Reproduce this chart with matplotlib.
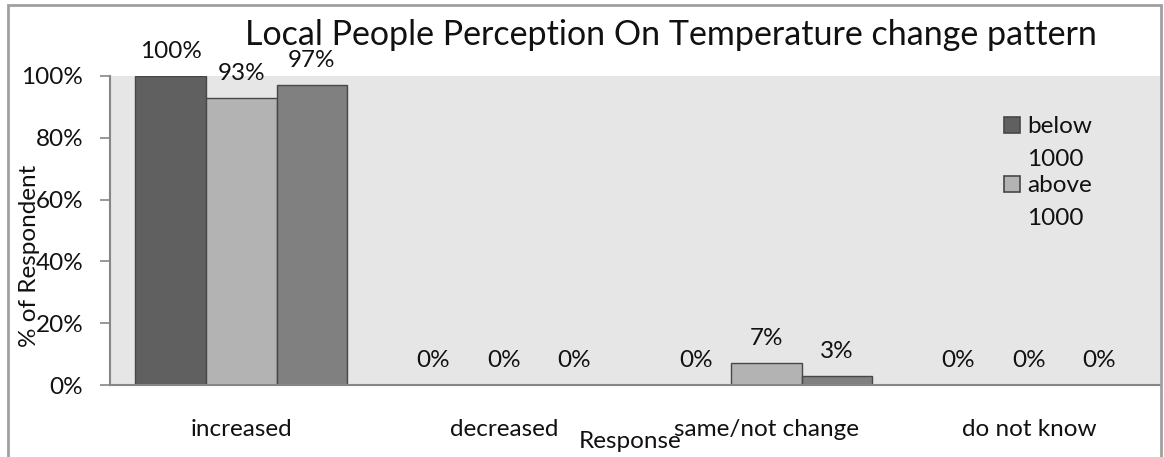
import numpy as np
import matplotlib
matplotlib.use("Agg")
import matplotlib.pyplot as plt
from matplotlib.patches import Rectangle

plt.rcParams["font.family"] = ["Lato", "DejaVu Sans"]

# data (% of respondents)
categories = ["increased", "decreased", "same/not change", "do not know"]
below_1000 = [100, 0, 0, 0]
above_1000 = [93, 0, 7, 0]
third_group = [97, 0, 3, 0]
legend_labels = ["below\n1000", "above\n1000"]

W, H = 1164, 457
fig = plt.figure(figsize=(W / 100, H / 100), dpi=100)


def fx(px):
    return px / W


def fy(py):
    return 1 - py / H


FS = 17.5

# plot area in pixel terms
left, top, right, bottom = 110, 76, 1160, 385
ax = fig.add_axes([fx(left), fy(bottom), fx(right - left), (bottom - top) / H])
ax.set_facecolor("#e6e6e6")

x = np.arange(len(categories))
w = 0.269
colors = ["#606060", "#b3b3b3", "#808080"]
series = [below_1000, above_1000, third_group]
for i, (vals, c) in enumerate(zip(series, colors)):
    bars = ax.bar(x + (i - 1) * w, vals, w, color=c, edgecolor="#474747",
                  linewidth=1.0, zorder=2)
    ax.bar_label(bars, labels=[f"{v}%" for v in vals], padding=10,
                 fontsize=FS, color="#111111")

ax.set_xlim(-0.5, 3.5)
ax.set_ylim(0, 100)
ax.set_yticks(np.arange(0, 101, 20))
ax.set_yticklabels([f"{v}%" for v in range(0, 101, 20)], fontsize=FS)
ax.set_xticks(x)
ax.set_xticklabels(categories, fontsize=FS)
ax.tick_params(axis="y", length=7.2, width=1.2, color="#868686", pad=12,
               labelcolor="#111111")
ax.tick_params(axis="x", length=0, pad=24.5, labelcolor="#111111")
for s in ["top", "right"]:
    ax.spines[s].set_visible(False)
for s in ["left", "bottom"]:
    ax.spines[s].set_color("#868686")
    ax.spines[s].set_linewidth(1.5)

# legend (only two entries shown), label lines placed by baseline
sq = 16
pitch = 33
for lab, c, y0 in zip(legend_labels, colors[:2], [117, 176]):
    fig.add_artist(Rectangle((fx(1004), fy(y0 + sq)), sq / W, sq / H,
                             transform=fig.transFigure, facecolor=c,
                             edgecolor="#474747", linewidth=1.2))
    for k, line in enumerate(lab.split("\n")):
        fig.text(fx(1027), fy(y0 + sq + k * pitch), line, fontsize=FS,
                 ha="left", va="baseline", color="#111111")

fig.text(fx(671), fy(45), "Local People Perception On Temperature change pattern",
         fontsize=24.5, ha="center", va="baseline", color="#111111")
fig.text(fx(30), fy(256), "% of Respondent", fontsize=FS, rotation=90,
         ha="center", va="center", color="#111111")
fig.text(fx(630), fy(441), "Response", fontsize=FS, ha="center", va="center",
         color="#111111")

# outer chart frame
fig.add_artist(Rectangle((fx(8), fy(470)), fx(1153), 465 / H,
                         transform=fig.transFigure, facecolor="none",
                         edgecolor="#a0a0a0", linewidth=2))

fig.savefig("out.png", dpi=100)
